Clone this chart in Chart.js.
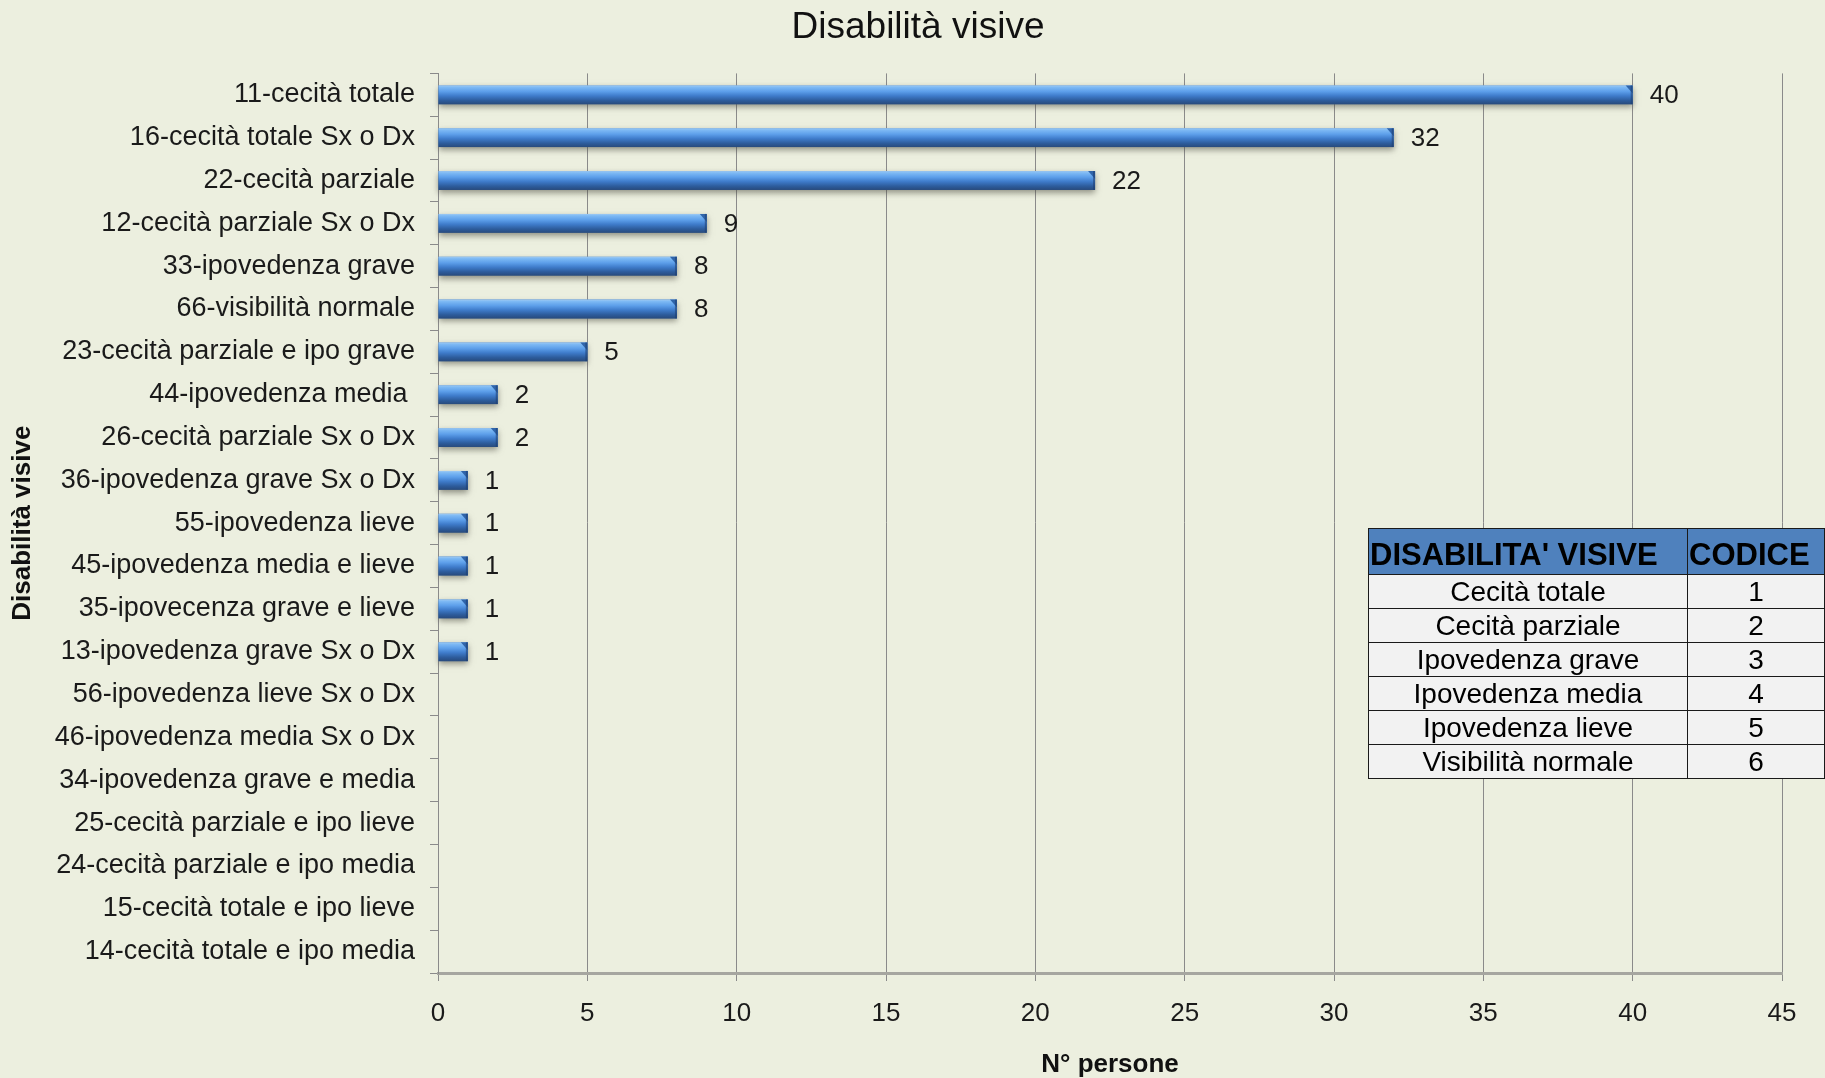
<!DOCTYPE html>
<html lang="it">
<head>
<meta charset="utf-8">
<title>Disabilità visive</title>
<script src="https://cdn.jsdelivr.net/npm/chart.js@4.4.1/dist/chart.umd.min.js"></script>
<style>
    html, body { margin: 0; padding: 0; background: #ECEFDF; }
    #wrap { position: relative; width: 1825px; height: 1078px; }
    #codici {
        position: absolute; left: 1368px; top: 528px; width: 456px;
        border-collapse: collapse; table-layout: fixed;
        font-family: "Liberation Sans", Arial, sans-serif; color: #000;
    }
    #codici th, #codici td { border: 1px solid #1a1a1a; padding: 0; white-space: nowrap; overflow: visible; }
    #codici th {
        background: #4F81BD; font-size: 31px; font-weight: bold; text-align: left;
        height: 45px; line-height: 38px; padding: 7px 0 0 1px; box-sizing: border-box;
    }
    #codici td { background: #F2F2F2; font-size: 28px; text-align: center; height: 34px; line-height: 33px; box-sizing: border-box; }
</style>
</head>
<body>
<div id="wrap">
    <canvas id="chart" width="1825" height="1078"></canvas>
    <table id="codici">
        <colgroup><col style="width:319px"><col style="width:137px"></colgroup>
        <thead><tr id="codiciHead"></tr></thead>
        <tbody id="codiciBody"></tbody>
    </table>
</div>
<script>
    // Chart data
    const categories = [
        "11-cecità totale",
        "16-cecità totale Sx o Dx",
        "22-cecità parziale",
        "12-cecità parziale Sx o Dx",
        "33-ipovedenza grave",
        "66-visibilità normale",
        "23-cecità parziale e ipo grave",
        "44-ipovedenza media ",
        "26-cecità parziale Sx o Dx",
        "36-ipovedenza grave Sx o Dx",
        "55-ipovedenza lieve",
        "45-ipovedenza media e lieve",
        "35-ipovecenza grave e lieve",
        "13-ipovedenza grave Sx o Dx",
        "56-ipovedenza lieve Sx o Dx",
        "46-ipovedenza media Sx o Dx",
        "34-ipovedenza grave e media",
        "25-cecità parziale e ipo lieve",
        "24-cecità parziale e ipo media",
        "15-cecità totale e ipo lieve",
        "14-cecità totale e ipo media",
    ];
    const values = [40, 32, 22, 9, 8, 8, 5, 2, 2, 1, 1, 1, 1, 1, 0, 0, 0, 0, 0, 0, 0];
    const xTicks = [0, 5, 10, 15, 20, 25, 30, 35, 40, 45];

    // Legend table data
    const tableHeaders = ["DISABILITA' VISIVE", "CODICE"];
    const tableNames = [
        "Cecità totale",
        "Cecità parziale",
        "Ipovedenza grave",
        "Ipovedenza media",
        "Ipovedenza lieve",
        "Visibilità normale",
    ];
    const tableCodes = [1, 2, 3, 4, 5, 6];

    const FONT = "'Liberation Sans', Arial, sans-serif";
    Chart.defaults.font.family = FONT;
    Chart.defaults.color = "#1a1a1a";

    // Fill the codes table
    document.getElementById("codiciHead").innerHTML = tableHeaders
        .map((h) => `<th>${h}</th>`)
        .join("");
    document.getElementById("codiciBody").innerHTML = tableNames
        .map((n, i) => `<tr><td>${n}</td><td>${tableCodes[i]}</td></tr>`)
        .join("");

    // Shift the title a bit right, like the original
    const titleShift = {
        id: "titleShift",
        afterLayout(chart) {
            if (chart.titleBlock) chart.titleBlock.left += 54;
        },
    };

    // Paints the cylinder look over each bar
    const barShine = {
        id: "barShine",
        afterDatasetsDraw(chart) {
            const { ctx } = chart;
            const meta = chart.getDatasetMeta(0);
            ctx.save();
            meta.data.forEach((bar, i) => {
                if (!values[i]) return;
                const { x, y, base, height } = bar.getProps(["x", "y", "base", "height"], true);
                const top = y - height / 2;
                const grad = ctx.createLinearGradient(0, top, 0, top + height);
                grad.addColorStop(0, "#9fcaf2");
                grad.addColorStop(0.1, "#7db9f4");
                grad.addColorStop(0.32, "#5d9fea");
                grad.addColorStop(0.55, "#3f7ccb");
                grad.addColorStop(0.8, "#2d5c9c");
                grad.addColorStop(1, "#284a7c");
                ctx.shadowColor = "rgba(70,70,60,0.55)";
                ctx.shadowBlur = 6;
                ctx.shadowOffsetY = 3;
                ctx.fillStyle = grad;
                ctx.fillRect(base, top, x - base, height);
                ctx.shadowColor = "transparent";
                // bevelled end
                ctx.fillStyle = "#2f64aa";
                ctx.beginPath();
                ctx.moveTo(x - 7, top);
                ctx.lineTo(x, top);
                ctx.lineTo(x, top + 8);
                ctx.closePath();
                ctx.fill();
                ctx.fillStyle = "rgba(30,60,110,0.55)";
                ctx.fillRect(x - 2, top, 2, height);
            });
            ctx.restore();
        },
    };

    // Value labels right of the bars
    const valueLabels = {
        id: "valueLabels",
        afterDatasetsDraw(chart) {
            const { ctx } = chart;
            const meta = chart.getDatasetMeta(0);
            ctx.save();
            ctx.font = `26px ${FONT}`;
            ctx.fillStyle = "#1a1a1a";
            ctx.textAlign = "left";
            ctx.textBaseline = "middle";
            meta.data.forEach((bar, i) => {
                if (!values[i]) return;
                ctx.fillText(String(values[i]), bar.x + 17, bar.y + 1);
            });
            ctx.restore();
        },
    };

    new Chart(document.getElementById("chart"), {
        type: "bar",
        data: {
            labels: categories,
            datasets: [
                {
                    data: values,
                    backgroundColor: "#4a86d0",
                    borderWidth: 0,
                    barPercentage: 0.44,
                    categoryPercentage: 1,
                },
            ],
        },
        options: {
            indexAxis: "y",
            responsive: false,
            animation: false,
            layout: { padding: { left: 0, right: 43, top: 0, bottom: 0 } },
            plugins: {
                legend: { display: false },
                tooltip: { enabled: false },
                title: {
                    display: true,
                    text: "Disabilità visive",
                    color: "#111",
                    font: { size: 37, weight: "normal", lineHeight: 1.2 },
                    padding: { top: 6, bottom: 23 },
                },
            },
            scales: {
                x: {
                    min: 0,
                    max: 45,
                    afterBuildTicks: (scale) => {
                        scale.ticks = xTicks.map((v) => ({ value: v }));
                    },
                    afterFit: (scale) => {
                        scale.height = 105;
                    },
                    ticks: { font: { size: 26 }, padding: 17, color: "#1a1a1a" },
                    grid: { color: "#8a8a8a", lineWidth: 1, tickLength: 8 },
                    border: { color: "#a6a6a0", width: 3 },
                    title: {
                        display: true,
                        text: "N° persone",
                        color: "#111",
                        font: { size: 26, weight: "bold", lineHeight: 1 },
                        padding: { top: 0, bottom: 0 },
                    },
                },
                y: {
                    afterFit: (scale) => {
                        scale.width = 438;
                    },
                    ticks: { font: { size: 27 }, padding: 15, color: "#1a1a1a" },
                    grid: { drawOnChartArea: false, color: "#8a8a8a", tickLength: 8 },
                    border: { color: "#8a8a8a", width: 1 },
                    title: {
                        display: true,
                        text: "Disabilità visive",
                        color: "#111",
                        font: { size: 26, weight: "bold", lineHeight: 1.2 },
                        padding: { top: 7, bottom: 0 },
                    },
                },
            },
        },
        plugins: [titleShift, barShine, valueLabels],
    });
</script>
</body>
</html>
